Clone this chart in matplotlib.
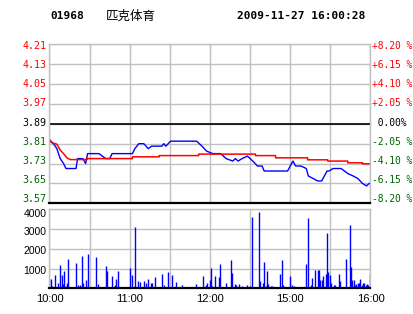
import numpy as np
import matplotlib
matplotlib.use("Agg")
import matplotlib.pyplot as plt
from matplotlib.ticker import FixedLocator
from matplotlib.transforms import ScaledTranslation

plt.rcParams["font.family"] = ["DejaVu Sans Mono", "Noto Sans CJK SC"]

RED, GREEN, BLUE, GRID = "#ff0000", "#006400", "#0000ff", "#c0c0c0"

code = "01968"
name = "匹克体育"
stamp = "2009-11-27 16:00:28"
prev_close = 3.89

price_ticks = [3.57, 3.65, 3.73, 3.81, 3.89, 3.97, 4.05, 4.13, 4.21]
pct_labels = ["-8.20 %", "-6.15 %", "-4.10 %", "-2.05 %", " 0.00%",
              "+2.05 %", "+4.10 %", "+6.15 %", "+8.20 %"]
vol_ticks = [1000, 2000, 3000, 4000]
time_ticks = [0, 60, 120, 180, 240]
time_labels = ["10:00", "11:00", "12:00", "15:00", "16:00"]

# minutes since 10:00 (trading time), price
blue_t = [0, 3, 5.5, 8, 10.5, 12.3, 19.8, 21, 25, 27, 28.5, 37, 39.5, 42, 45, 46.8,
          62, 63.8, 66.8, 70.5, 73.8, 76.3, 84, 85.5, 87, 90.5, 110, 114, 117.5,
          122, 128, 132, 137, 139, 141, 144, 148, 152, 155.5, 159, 160.5, 178,
          182, 184, 188, 192, 193.5, 197, 200.5, 203.5, 207.5, 209, 212, 218,
          223, 227, 230.5, 234, 237, 239, 240]
blue_p = [3.82, 3.81, 3.79, 3.75, 3.73, 3.71, 3.71, 3.75, 3.75, 3.73, 3.77, 3.77, 3.76, 3.75, 3.75, 3.77,
          3.77, 3.79, 3.81, 3.81, 3.79, 3.80, 3.80, 3.81, 3.80, 3.82, 3.82, 3.80, 3.78,
          3.77, 3.77, 3.75, 3.74, 3.75, 3.74, 3.75, 3.76, 3.74, 3.72, 3.72, 3.70, 3.70,
          3.74, 3.72, 3.72, 3.71, 3.68, 3.67, 3.66, 3.66, 3.70, 3.70, 3.71, 3.71,
          3.69, 3.68, 3.67, 3.65, 3.64, 3.65, 3.65]

avg_t = [0, 2.3, 5.5, 8, 10.5, 13, 15.5, 28, 28, 62, 62, 82, 82, 111.5, 111.5,
         154, 154, 169, 169, 193, 193, 208, 208, 223, 223, 234, 234, 240]
avg_p = [3.827, 3.813, 3.808, 3.784, 3.770, 3.753, 3.746, 3.746, 3.750, 3.750, 3.757,
         3.757, 3.762, 3.762, 3.768, 3.768, 3.762, 3.762, 3.753, 3.753, 3.745,
         3.745, 3.740, 3.740, 3.733, 3.733, 3.729, 3.729]

vol_t = [0.0, 0.8, 1.5, 3.8, 6.0, 7.5, 9.0, 9.8, 10.5, 12.0, 12.8, 13.5, 19.5, 21.0,
         22.5, 24.0, 24.8, 27.0, 28.5, 34.5, 36.0, 42.0, 42.8, 46.5, 48.8, 49.5, 51.0,
         60.0, 61.5, 63.8, 66.0, 67.5, 70.5, 72.0, 73.5, 75.8, 76.5, 78.8, 84.0, 85.5,
         88.5, 91.5, 94.5, 99.0, 109.5, 114.8, 117.0, 117.8, 120.0, 120.75, 121.5,
         123.75, 126.75, 127.5, 132.0, 135.75, 136.5, 138.75, 139.5, 141.75, 144.0,
         147.75, 150.0, 151.5, 156.75, 157.5, 159.75, 160.5, 162.0, 162.75, 163.5,
         165.75, 166.5, 172.5, 174.0, 174.75, 180.0, 181.5, 183.0, 192.0, 193.5,
         195.75, 196.5, 198.75, 201.0, 201.75, 202.5, 204.0, 204.75, 207.0, 207.75,
         208.5, 210.0, 210.75, 213.0, 213.75, 216.75, 217.5, 222.0, 225.0, 225.75,
         226.5, 228.0, 228.75, 229.5, 231.0, 231.75, 232.5, 234.0, 234.75, 235.5,
         237.0, 237.75, 238.5, 239.6]
vol_v = [470, 470, 120, 675, 270, 1180, 675, 220, 880, 120, 270, 1490, 1280, 170,
         170, 1640, 270, 420, 1740, 1590, 220, 1130, 880, 625, 170, 470, 880,
         1030, 675, 3100, 370, 320, 370, 270, 470, 270, 270, 575, 725, 170,
         830, 675, 320, 170, 220, 625, 170, 270, 420, 1030, 120,
         625, 575, 1230, 270, 1435, 775, 220, 170, 220, 120,
         170, 120, 3610, 3865, 370, 270, 1330, 120, 880, 220,
         120, 120, 725, 1435, 170, 625, 170, 120, 1230, 3560,
         170, 525, 930, 930, 930, 420, 420, 625, 725, 2800,
         830, 675, 270, 170, 170, 725, 370, 1490, 3210, 1080,
         420, 420, 170, 220, 270, 270, 470, 170, 270, 270,
         170, 220, 170, 725]

W, H = 414, 314
fig = plt.figure(figsize=(W / 100, H / 100), dpi=100)
L, R = 49.5, 370.5


def frac(y_top, y_bot):
    return [L / W, 1 - y_bot / H, (R - L) / W, (y_bot - y_top) / H]


def frame(ax):
    for s in ax.spines.values():
        s.set_color(GRID); s.set_linewidth(1)
    ax.spines["bottom"].set_color("black"); ax.spines["bottom"].set_linewidth(1.6)
    ax.set_xlim(0, 240)
    ax.xaxis.set_major_locator(FixedLocator(time_ticks))
    ax.xaxis.set_minor_locator(FixedLocator([30, 90, 150, 210]))
    ax.grid(True, which="both", color=GRID, lw=1)
    ax.tick_params(which="both", length=0)
    ax.set_axisbelow(True)


def nudge(lab, px):
    # move a tick label up by px pixels
    lab.set_transform(lab.get_transform() + ScaledTranslation(0, px / 100, fig.dpi_scale_trans))


def price_color(p):
    return RED if p > prev_close else GREEN if p < prev_close else "black"


# price panel
ax = fig.add_axes(frac(44.3, 203.3))
frame(ax)
ax.set_ylim(price_ticks[0], price_ticks[-1])
ax.set_yticks(price_ticks)
ax.set_yticklabels([f"{p:.2f}" for p in price_ticks], fontsize=7.2)
ax.tick_params(axis="y", pad=2)
ax.tick_params(axis="x", labelbottom=False)
ax.axhline(prev_close, color="black", lw=1.2)
ax.plot(blue_t, blue_p, color=BLUE, lw=1)
ax.plot(avg_t, avg_p, color=RED, lw=1.1)

ax2 = ax.twinx()
ax2.set_ylim(ax.get_ylim())
ax2.set_yticks(price_ticks)
ax2.set_yticklabels(pct_labels, fontsize=6.9)
ax2.tick_params(length=0, pad=1)
for s in ax2.spines.values():
    s.set_visible(False)

n = len(price_ticks)
for a in (ax, ax2):
    for k, (lab, p) in enumerate(zip(a.get_yticklabels(), price_ticks)):
        lab.set_color(price_color(p))
        nudge(lab, 0.71 * (n - 1 - k) - 0.7)

# volume panel
bx = fig.add_axes(frac(209.3, 288.3))
frame(bx)
bx.set_ylim(0, 4000)
bx.set_yticks(vol_ticks)
bx.set_yticklabels([str(v) for v in vol_ticks], fontsize=7.5, family="Liberation Sans")
bx.set_xticklabels(time_labels, fontsize=8, family="Liberation Sans")
bx.tick_params(axis="y", pad=2)
bx.tick_params(axis="x", pad=4)
for lab, d in zip(bx.get_yticklabels(), [-1, -1, -2, -3.5]):
    nudge(lab, d)
bx.vlines(vol_t, 0, vol_v, color=BLUE, lw=1.0)

# header
fig.text(50 / W, 1 - 16 / H, code, fontsize=8, weight="bold", va="center")
fig.text(106 / W, 1 - 16 / H, name, fontsize=9, va="center",
         family=["Noto Sans CJK SC", "DejaVu Sans"])
fig.text(237 / W, 1 - 16 / H, stamp, fontsize=8, weight="bold", va="center")

fig.savefig("out.png", dpi=100, facecolor="white")
